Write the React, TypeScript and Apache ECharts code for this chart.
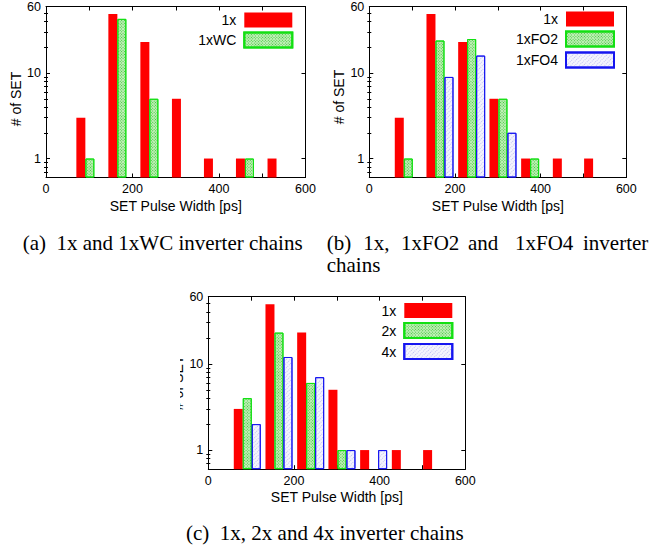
import React, { useEffect, useRef } from 'react';
import * as echarts from 'echarts';

// ---- data ----
const binCenters = [91, 165, 239, 312, 386, 460, 533];
const s1x = [3, 49, 23, 5, 1, 1, 1];
const s1xWC = [1, 43, 5, 0, 0, 1, 0];
const s1xFO2 = [1, 24, 25, 5, 1, 0, 0];
const s1xFO4 = [0, 9, 16, 2, 0, 0, 0];
const s2x = [4, 23, 6, 1, 0, 0, 0];
const s4x = [2, 12, 7, 1, 1, 0, 0];

const xLabelValues = [0, 200, 400, 600];
const yLabelValues = [1, 10, 60];
const yMajorTicks = [1, 10];
const yMinorTicks = [0.7, 0.8, 0.9, 2, 3, 4, 5, 6, 7, 8, 9, 20, 30, 40, 50];

const xName = 'SET Pulse Width [ps]';
const yName = '# of SET';

const SANS = '"Liberation Sans", Arial, Helvetica, sans-serif';
const SERIF = '"Liberation Serif", "Times New Roman", serif';

type Kind = 'red' | 'green' | 'blue';
type SDef = { name: string; values: number[]; kind: Kind };

const panels: {
  grid: { left: number; top: number; width: number; height: number };
  yNameGap: number;
  yNameShift: number;
  legendRight: number;
  legendTop: number;
  series: SDef[];
}[] = [
  {
    grid: { left: 46, top: 4.5, width: 259.5, height: 173 },
    yNameGap: 17,
    yNameShift: 14,
    legendRight: 365.7,
    legendTop: 12.5,
    series: [
      { name: '1x', values: s1x, kind: 'red' },
      { name: '1xWC', values: s1xWC, kind: 'green' },
    ],
  },
  {
    grid: { left: 369.3, top: 4.5, width: 257, height: 173 },
    yNameGap: 19,
    yNameShift: 10,
    legendRight: 44,
    legendTop: 11.5,
    series: [
      { name: '1x', values: s1x, kind: 'red' },
      { name: '1xFO2', values: s1xFO2, kind: 'green' },
      { name: '1xFO4', values: s1xFO4, kind: 'blue' },
    ],
  },
  {
    grid: { left: 208.3, top: 296.7, width: 257, height: 172.5 },
    yNameGap: 19,
    yNameShift: 0,
    legendRight: 205.7,
    legendTop: 303,
    series: [
      { name: '1x', values: s1x, kind: 'red' },
      { name: '2x', values: s2x, kind: 'green' },
      { name: '4x', values: s4x, kind: 'blue' },
    ],
  },
];

const styleFor = (kind: Kind) => {
  if (kind === 'red') {
    return { color: '#ff0000', borderWidth: 0 };
  }
  if (kind === 'green') {
    return {
      color: '#c2f0b8',
      borderColor: '#12e012',
      borderWidth: 1,
      decal: {
        symbol: 'rect',
        symbolSize: 1,
        color: 'rgba(40,190,40,0.85)',
        dashArrayX: [1, 1],
        dashArrayY: [1, 1],
        rotation: Math.PI / 4,
      },
    };
  }
  return {
    color: '#f4f4fd',
    borderColor: '#1515f0',
    borderWidth: 1,
    decal: {
      symbol: 'rect',
      symbolSize: 1,
      color: 'rgba(150,150,235,0.55)',
      dashArrayX: [1, 1],
      dashArrayY: [1, 2],
      rotation: -Math.PI / 4,
    },
  };
};

const captions = [
  { text: '(a)\u00a0\u00a01x and 1xWC inverter chains', x: 22.7, y: 242.5 },
  { text: '(b)', x: 326.7, y: 242.5 },
  { text: '1x,', x: 363.3, y: 242.5 },
  { text: '1xFO2', x: 401, y: 242.5 },
  { text: 'and', x: 468, y: 242.5 },
  { text: '1xFO4', x: 515, y: 242.5 },
  { text: 'inverter', x: 583, y: 242.5 },
  { text: 'chains', x: 326.7, y: 265 },
  { text: '(c)\u00a0\u00a01x, 2x and 4x inverter chains', x: 186, y: 533 },
];

export default function App() {
  const ref = useRef<HTMLDivElement>(null);
  useEffect(() => {
    if (!ref.current) return;
    const chart = echarts.init(ref.current, undefined, { renderer: 'svg' });
    const axisText = { color: '#000', fontSize: 12.5, fontFamily: SANS };
    const nameText = { color: '#000', fontSize: 14, fontFamily: SANS };
    const grid: any[] = [];
    const xAxis: any[] = [];
    const yAxis: any[] = [];
    const series: any[] = [];
    const legend: any[] = [];
    panels.forEach((p, i) => {
      grid.push({ ...p.grid, containLabel: false });
      const xBase = {
        type: 'value',
        gridIndex: i,
        min: 0,
        max: 600,
        interval: 100,
        splitLine: { show: false },
        axisLine: { show: true, onZero: false, lineStyle: { color: '#000', width: 1 } },
        axisTick: { show: true, inside: true, length: 4, lineStyle: { color: '#000' } },
      };
      xAxis.push({
        ...xBase,
        position: 'bottom',
        name: xName,
        nameLocation: 'middle',
        nameGap: 21,
        nameTextStyle: nameText,
        axisLabel: { ...axisText, margin: 5, customValues: xLabelValues },
      });
      xAxis.push({ ...xBase, position: 'top', axisLabel: { show: false } });
      const yBase = {
        type: 'log',
        logBase: 10,
        gridIndex: i,
        min: 0.6,
        max: 60,
        startValue: 0.6,
        splitLine: { show: false },
      };
      yAxis.push({
        ...yBase,
        position: 'left',
        name: yName,
        nameLocation: 'middle',
        nameGap: p.yNameGap,
        nameTextStyle: { ...nameText, padding: [0, p.yNameShift, 0, 0] },
        axisLine: { show: true, onZero: false, lineStyle: { color: '#000', width: 1 } },
        axisTick: { show: true, inside: true, length: 4, customValues: yMajorTicks, lineStyle: { color: '#000' } },
        axisLabel: { ...axisText, margin: 5, customValues: yLabelValues },
      });
      yAxis.push({
        ...yBase,
        position: 'left',
        axisLine: { show: false },
        axisTick: { show: true, inside: true, length: 2, customValues: yMinorTicks, lineStyle: { color: '#000' } },
        axisLabel: { show: false },
      });
      yAxis.push({
        ...yBase,
        position: 'right',
        axisLine: { show: true, onZero: false, lineStyle: { color: '#000', width: 1 } },
        axisTick: { show: true, inside: true, length: 4, customValues: yMajorTicks, lineStyle: { color: '#000' } },
        axisLabel: { show: false },
      });
      yAxis.push({
        ...yBase,
        position: 'right',
        axisLine: { show: false },
        axisTick: { show: true, inside: true, length: 2, customValues: yMinorTicks, lineStyle: { color: '#000' } },
        axisLabel: { show: false },
      });
      p.series.forEach((s) => {
        series.push({
          type: 'bar',
          name: s.name,
          xAxisIndex: 2 * i,
          yAxisIndex: 4 * i,
          barWidth: 9,
          barGap: '0%',
          itemStyle: styleFor(s.kind),
          emphasis: { disabled: true },
          data: binCenters.map((c, k) => [c, s.values[k] > 0 ? s.values[k] : null]),
        });
      });
      legend.push({
        orient: 'vertical',
        align: 'right',
        right: p.legendRight,
        top: p.legendTop,
        padding: 0,
        itemWidth: 48,
        itemHeight: 15,
        itemGap: 4,
        icon: 'rect',
        selectedMode: false,
        textStyle: { color: '#000', fontSize: 14, fontFamily: SANS, padding: [0, 3, 0, 0] },
        data: p.series.map((s) => s.name),
      });
    });
    const graphic: any[] = [
      {
        type: 'rect',
        left: 0,
        top: 285,
        shape: { x: 0, y: 0, width: 180, height: 200 },
        style: { fill: '#fff' },
        z: 100,
      },
      ...captions.map((c) => ({
        type: 'text',
        x: c.x,
        y: c.y,
        z: 100,
        style: {
          text: c.text,
          fill: '#000',
          font: `21px ${SERIF}`,
          textAlign: 'left',
          textVerticalAlign: 'middle',
          verticalAlign: 'middle',
        },
      })),
    ];
    chart.setOption({
      animation: false,
      backgroundColor: '#fff',
      grid,
      xAxis,
      yAxis,
      series,
      legend,
      graphic,
      tooltip: { show: false },
    });
    return () => chart.dispose();
  }, []);
  return (
    <div
      ref={ref}
      style={{ position: 'absolute', left: 0, top: 0, width: 659, height: 546 }}
    />
  );
}
